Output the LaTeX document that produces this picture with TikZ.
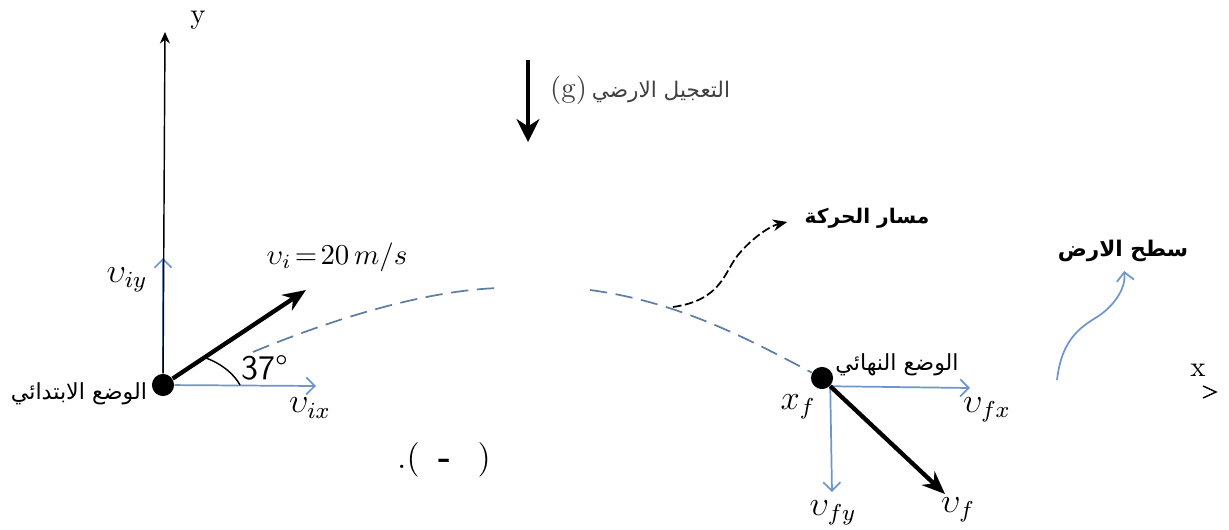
\documentclass[tikz,border=0pt]{standalone}
\usepackage{fontspec}
\usepackage{amsmath}
\newfontfamily\arabicfont[Script=Arabic]{DejaVu Sans}
\TeXXeTstate=1
\usetikzlibrary{arrows.meta}
\definecolor{compblue}{RGB}{110,150,205}
\definecolor{trajblue}{RGB}{95,125,165}
\newcommand{\arab}[1]{{\arabicfont\beginR #1\endR}}

\begin{document}
\begin{tikzpicture}[x=0.0122cm,y=-0.0122cm,>=Stealth,
  ball/.style={circle,fill=black,inner sep=0pt,minimum size=0.27cm},
  comp/.style={draw=compblue,line width=0.6pt,-{Straight Barb[length=3pt,width=6pt]}},
  bigvec/.style={line width=1.5pt,-{Stealth[length=8pt,width=6.5pt]}},
  traj/.style={draw=trajblue,line width=0.6pt,dash pattern=on 6pt off 3pt},
  arlbl/.style={font=\fontsize{7.7}{9}\selectfont,inner sep=0pt},
  arbold/.style={font=\fontsize{7.5}{9}\selectfont\bfseries,inner sep=0pt}]
\useasboundingbox (0,0) rectangle (1229,530);

% the two positions
\node[ball] (start) at (163,385) {};
\node[ball] (final) at (822,378) {};

% path of the projectile
\draw[traj] (253,352) .. controls (340,316) and (430,290) .. (500,288);
\draw[traj] (590,290) .. controls (680,302) and (750,340) .. (final);

% initial position
\coordinate (yTip) at (165,32);
\coordinate (iyTip) at (163,258);
\coordinate (ixTip) at (316,386);
\coordinate (viTip) at (306,290);
\draw[comp] (start) -- (iyTip);
\draw[line width=0.5pt,-{Stealth[length=4pt,width=3.5pt]}] (start) -- (yTip);
\draw[comp] (start) -- (ixTip);
\draw[bigvec] (start) -- (viTip);
\draw[line width=0.5pt] (206,358) .. controls (222,364) and (234,374) .. (240,385);
\node (yLbl) at (198,20) {y};
\node (viyLbl) at (127,280) {\large$\upsilon_{iy}$};
\node (vixLbl) at (310,408) {\large$\upsilon_{ix}$};
\node (viLbl) at (337,257) {$\upsilon_i\!=\!20\,m/s$};
\node (angLbl) at (265,368) {\large\sffamily 37°};
\node[arlbl] (initLbl) at (79,394) {\arab{الوضع الابتدائي}};

% final position
\coordinate (fxTip) at (970,388);
\coordinate (fyTip) at (832,492);
\coordinate (vfTip) at (945,494);
\draw[comp] (final.south east) -- (fxTip);
\draw[comp] (final.south east) -- (fyTip);
\draw[bigvec] (final.south east) -- (vfTip);
\node[arlbl] (finalLbl) at (897,365) {\arab{الوضع النهائي}};
\node (xfLbl) at (798,407) {\large$x_f$};
\node (vfxLbl) at (987,410) {\large$\upsilon_{fx}$};
\node (vfyLbl) at (833,513) {\large$\upsilon_{fy}$};
\node (vfLbl) at (958,510) {\large$\upsilon_f$};

% gravity
\coordinate (gTop) at (528,60);
\coordinate (gTip) at (528,142);
\draw[line width=1.1pt,-{Stealth[length=8pt,width=8pt]}] (gTop) -- (gTip);
\node[anchor=west,text=black!75] (gLbl) at (540,90)
  {(g)\,\arab{\fontsize{7.5}{9}\selectfont التعجيل الارضي}};

% labels with pointers
\node[arbold,font=\fontsize{7}{8}\selectfont\bfseries] (pathLbl) at (867,218) {\arab{مسار الحركة}};
\coordinate (pathFoot) at (673,307);
\draw[line width=0.6pt,dash pattern=on 3pt off 1.2pt,-{Stealth[length=5pt,width=4pt]},shorten >=6pt]
  (pathFoot) .. controls (722,300) and (724,272) .. (738,255)
  .. controls (752,238) and (770,226) .. (pathLbl.west);
\node[arbold] (groundLbl) at (1123,251) {\arab{سطح الارض}};
\coordinate (groundFoot) at (1057,380);
\draw[compblue,line width=0.6pt,-{Straight Barb[length=3pt,width=6pt]},shorten >=3pt]
  (groundFoot) .. controls (1062,335) and (1085,325) .. (1100,315)
  .. controls (1118,302) and (1126,285) .. (groundLbl.south);

% x axis end
\node (xLbl) at (1198,370) {x};
\draw[line width=0.5pt] (1203,386) -- (1216,392) -- (1203,398);

\node (capLbl) at (444,460) {\large .(\hspace{0.55em}\textbf{-}\hspace{0.75em})};
\end{tikzpicture}
\end{document}
